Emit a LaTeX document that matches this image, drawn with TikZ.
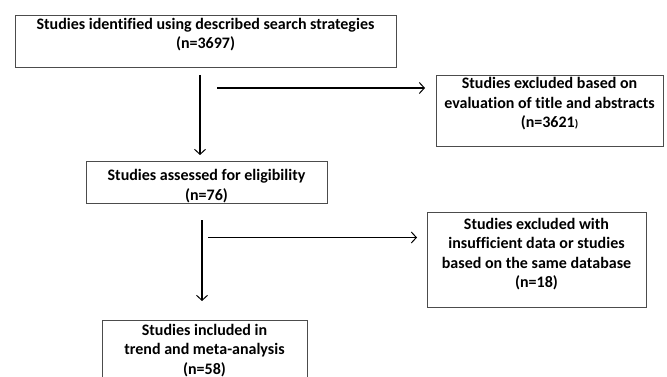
\documentclass[tikz,border=0pt]{standalone}
\usepackage{fontspec}
\setmainfont{Carlito}[Ligatures=NoCommon]
\usetikzlibrary{arrows.meta}
\begin{document}
\begin{tikzpicture}[x=1pt,y=-1pt,
  box/.style={draw=black!70, line width=0.9pt, align=center, font=\bfseries\fontsize{16}{19.5}\selectfont, inner sep=1pt},
  arr/.style={-{Straight Barb[length=5pt,width=11pt,line width=1pt]}, line width=1.1pt}]
\useasboundingbox (0,0) rectangle (667,377);
\clip (0,0) rectangle (667,377);
\node[box, minimum width=381pt, minimum height=52pt] (b1) at (205.5,41) {Studies identified using described search strategies\\(n=3697)\\[-4pt]};
\node[box, minimum width=227pt, minimum height=71pt] (b3) at (549.5,110.5) {Studies excluded based on\\evaluation of title and abstracts\\(n=3621{\fontsize{11}{12}\selectfont)}\\[-4pt]};
\node[box, minimum width=241pt, minimum height=41pt] (b2) at (206.5,182.5) {\rule{0pt}{18pt}Studies assessed for eligibility\\(n=76)};
\node[box, minimum width=219pt, minimum height=95pt] (b4) at (536.5,259.5) {Studies excluded with\\insufficient data or studies\\based on the same database\\(n=18)\\[-6pt]};
\node[box, minimum width=205pt, minimum height=60pt, anchor=north] (b5) at (204.5,320) {Studies included in\\trend and meta-analysis\\(n=58)};
\coordinate (v1s) at (200,75);
\coordinate (v1e) at (200,155);
\coordinate (h1s) at (217,88);
\coordinate (h1e) at (425,88);
\coordinate (v2s) at (202,220);
\coordinate (v2e) at (202,301);
\coordinate (h2s) at (208,237.5);
\coordinate (h2e) at (417,237.5);
\draw[arr] (v1s) -- (v1e);
\draw[arr] (h1s) -- (h1e);
\draw[arr] (v2s) -- (v2e);
\draw[arr] (h2s) -- (h2e);
\end{tikzpicture}
\end{document}
